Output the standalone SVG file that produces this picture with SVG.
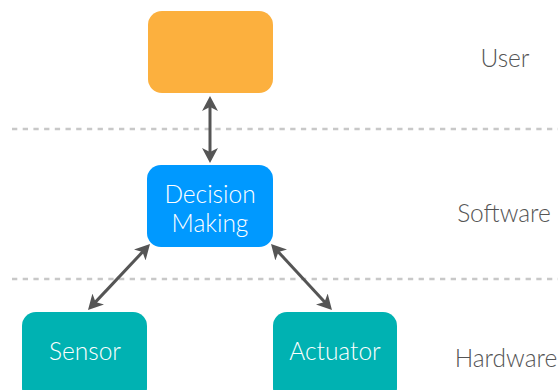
<svg xmlns="http://www.w3.org/2000/svg" width="558" height="390" viewBox="0 0 558 390">
  <style>
    .lane { stroke: #c8c8c8; stroke-width: 2.7; stroke-dasharray: 5.3 5.4; fill: none; }
    .box-text { font-family: Lato, "Open Sans", "Liberation Sans", sans-serif; font-weight: 300; font-size: 24.5px; fill: #ffffff; text-anchor: middle; }
    .layer { font-family: Lato, "Open Sans", "Liberation Sans", sans-serif; font-weight: 300; font-size: 24.5px; fill: #555555; text-anchor: middle; }
    .link { stroke: #555555; stroke-width: 3; fill: none; marker-start: url(#head); marker-end: url(#head); }
  </style>
  <defs>
    <marker id="head" viewBox="0 0 16 16" refX="9" refY="8" markerWidth="16" markerHeight="16" markerUnits="userSpaceOnUse" orient="auto-start-reverse">
      <path d="M0,0 L15,8 L0,16 L4,8 z" fill="#555555"/>
    </marker>
  </defs>

  <!-- layer separators -->
  <line class="lane" x1="12" y1="129" x2="558" y2="129"/>
  <line class="lane" x1="12" y1="279" x2="558" y2="279"/>

  <!-- layer names -->
  <text class="layer" x="505" y="67">User</text>
  <text class="layer" x="504" y="222">Software</text>
  <text class="layer" x="506" y="367">Hardware</text>

  <g id="user">
    <rect x="148" y="11" width="125" height="82" rx="14" fill="#FCB03E"/>
  </g>

  <g id="decision-making">
    <rect x="147" y="165" width="126" height="82" rx="14" fill="#0099FF"/>
    <text class="box-text" x="210" y="203">Decision</text>
    <text class="box-text" x="210" y="232">Making</text>
  </g>

  <g id="sensor">
    <rect x="22" y="312" width="125" height="90" rx="14" fill="#00B2B2"/>
    <text class="box-text" x="85" y="360">Sensor</text>
  </g>

  <g id="actuator">
    <rect x="273" y="312" width="124" height="90" rx="14" fill="#00B2B2"/>
    <text class="box-text" x="335" y="360">Actuator</text>
  </g>

  <g id="connectors">
    <line class="link" x1="210" y1="102" x2="210" y2="157"/>
    <line class="link" x1="92.1" y1="305.6" x2="145.9" y2="248.4"/>
    <line class="link" x1="275.1" y1="248.4" x2="327.9" y2="305.6"/>
  </g>
</svg>
